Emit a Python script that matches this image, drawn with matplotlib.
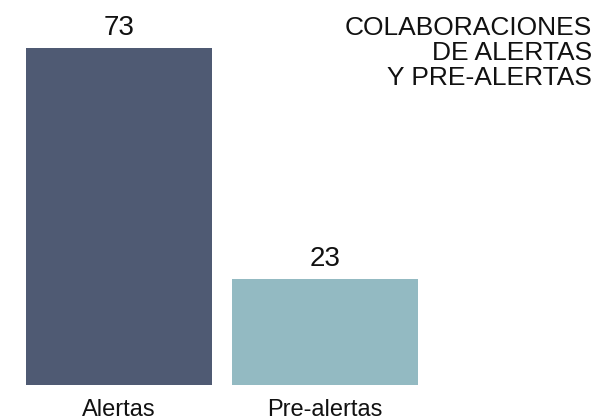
import matplotlib.pyplot as plt

categories = ['Alertas', 'Pre-alertas']
values = [73, 23]
colors = ['#4f5a73', '#93bac2']
title = 'COLABORACIONES\nDE ALERTAS\nY PRE-ALERTAS'

plt.rcParams['font.family'] = ['Liberation Sans', 'DejaVu Sans']

fig = plt.figure(figsize=(6, 4.2), dpi=100)
ax = fig.add_axes([26 / 600, 35 / 420, 392 / 600, 337 / 420])

pos = range(len(categories))
bars = ax.bar(pos, values, width=0.9, color=colors)
for b, v in zip(bars, values):
    ax.annotate(str(v), (b.get_x() + b.get_width() / 2, v), xytext=(0, 5),
                textcoords='offset points', ha='center', va='bottom',
                fontsize=20, color='#111111', annotation_clip=False)

ax.set_xlim(-0.45, 1.45)
ax.set_ylim(0, 73)
ax.set_xticks(list(pos))
ax.set_xticklabels(categories, fontsize=17, color='#111111')
ax.tick_params(axis='x', length=0, pad=10)
ax.set_yticks([])
for s in ax.spines.values():
    s.set_visible(False)

fig.text(592 / 600, 1 - 16 / 420, title, ha='right', va='top',
         fontsize=19, color='#111111', linespacing=1.04)

fig.savefig('out.png', dpi=100)
